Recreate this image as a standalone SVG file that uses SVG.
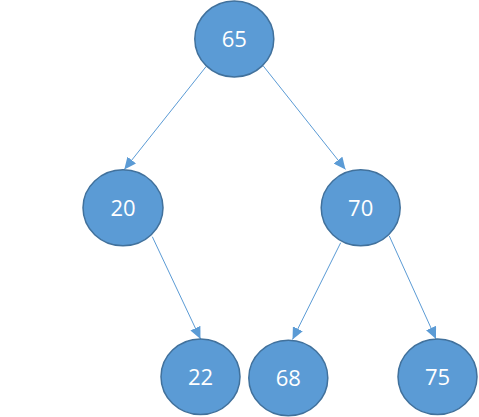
<svg xmlns="http://www.w3.org/2000/svg" width="479" height="417" viewBox="0 0 479 417">
<style>
.node ellipse{fill:#5B9BD5;stroke:#41719C;stroke-width:1.5}
.node text{fill:#FFFFFF;font-family:"Open Sans","Liberation Sans",sans-serif;font-size:22px;text-anchor:middle}
.edge{stroke:#5B9BD5;stroke-width:1;fill:none;marker-end:url(#arr)}
</style>
<defs>
<marker id="arr" markerUnits="userSpaceOnUse" markerWidth="12" markerHeight="11" refX="12" refY="5.5" orient="auto" viewBox="0 0 12 11">
<path d="M0,0 L12,5.5 L0,11 z" fill="#5B9BD5"/>
</marker>
</defs>
<rect width="479" height="417" fill="#FFFFFF"/>
<g id="connectors">
<line class="edge" x1="206" y1="66.7" x2="124.3" y2="169.5"/>
<line class="edge" x1="263.3" y1="66" x2="345.5" y2="169.5"/>
<line class="edge" x1="152.3" y1="236.7" x2="200.5" y2="339"/>
<line class="edge" x1="340.7" y1="242.7" x2="292.5" y2="339.5"/>
<line class="edge" x1="389.3" y1="236" x2="436" y2="339"/>
</g>
<g id="n65" class="node"><ellipse cx="234.3" cy="39" rx="39.5" ry="38"/><text x="234.3" y="46.8">65</text></g>
<g id="n20" class="node"><ellipse cx="123" cy="207.8" rx="40" ry="38"/><text x="123" y="215.6">20</text></g>
<g id="n70" class="node"><ellipse cx="360.7" cy="207.8" rx="39.5" ry="38"/><text x="360.7" y="215.6">70</text></g>
<g id="n22" class="node"><ellipse cx="200.5" cy="376.7" rx="39.5" ry="37.8"/><text x="200.5" y="384.5">22</text></g>
<g id="n68" class="node"><ellipse cx="288.3" cy="378" rx="39.5" ry="37.8"/><text x="288.3" y="385.8">68</text></g>
<g id="n75" class="node"><ellipse cx="437.5" cy="376.7" rx="39.5" ry="37.8"/><text x="437.5" y="384.5">75</text></g>
</svg>
